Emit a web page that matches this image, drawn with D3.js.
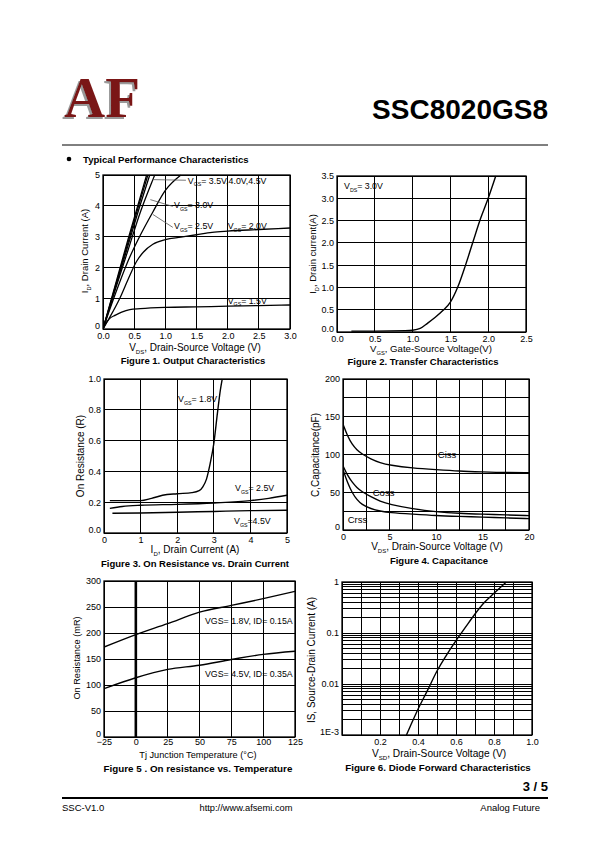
<!DOCTYPE html>
<html><head><meta charset="utf-8">
<script src="https://cdn.jsdelivr.net/npm/d3@7"></script>
<style>body{margin:0;background:#fff}svg{display:block}text{font-family:"Liberation Sans",Arial,sans-serif;fill:#000}</style>
</head><body><svg id="page" width="595" height="842"></svg>
<script>
// ---------- DATA ----------
// Figure 1: Output characteristics, [Vds (V), Id (A)]
const fig1_VGS45 = [[0,0],[0.2,1.45],[0.4,2.9],[0.6,4.3],[0.7,5.0]];
const fig1_VGS40 = [[0,0],[0.2,1.4],[0.4,2.8],[0.6,4.2],[0.72,5.0]];
const fig1_VGS35 = [[0,0],[0.2,1.35],[0.4,2.7],[0.6,4.05],[0.75,5.0]];
const fig1_VGS30 = [[0,0],[0.2,1.3],[0.4,2.55],[0.6,3.8],[0.8,4.85],[0.83,5.0]];
const fig1_VGS25 = [[0,0],[0.2,1.15],[0.4,2.2],[0.6,3.05],[0.8,3.8],[1.0,4.5],[1.25,5.0]];
const fig1_VGS20 = [[0,0],[0.1,0.35],[0.27,1.0],[0.4,1.6],[0.54,2.2],[0.65,2.5],[0.8,2.75],[1.0,2.9],[1.25,2.98],[1.5,3.06],[1.75,3.14],[2.0,3.18],[2.5,3.23],[3.0,3.28]];
const fig1_VGS15 = [[0,0],[0.05,0.2],[0.1,0.33],[0.2,0.45],[0.3,0.55],[0.43,0.63],[0.6,0.66],[1.0,0.7],[1.5,0.72],[2.0,0.74],[2.5,0.76],[3.0,0.78]];
const fig1_xTicks = [0,0.5,1.0,1.5,2.0,2.5,3.0];
const fig1_yTicks = [0,1,2,3,4,5];
// Figure 2: Transfer characteristics, [Vgs (V), Id (A)]
const fig2_VDS30 = [[0.19,0.02],[0.5,0.02],[0.9,0.03],[1.0,0.04],[1.1,0.08],[1.2,0.2],[1.3,0.33],[1.4,0.48],[1.5,0.67],[1.6,1.02],[1.7,1.5],[1.8,2.03],[1.9,2.55],[2.0,3.0],[2.1,3.5]];
const fig2_xTicks = [0,0.5,1.0,1.5,2.0,2.5];
const fig2_yTicks = [0,0.5,1.0,1.5,2.0,2.5,3.0,3.5];
// Figure 3: On resistance vs drain current, [Id (A), R (ohm)]
const fig3_VGS18 = [[0.16,0.21],[1.0,0.21],[1.3,0.225],[1.6,0.245],[2.0,0.255],[2.4,0.262],[2.6,0.275],[2.7,0.3],[2.8,0.35],[2.9,0.45],[3.0,0.58],[3.1,0.78],[3.18,0.93],[3.23,1.0]];
const fig3_VGS25 = [[0.16,0.16],[0.5,0.172],[1.0,0.18],[2.0,0.186],[3.0,0.195],[4.0,0.21],[4.5,0.225],[5.0,0.245]];
const fig3_VGS45 = [[0.23,0.128],[1.0,0.13],[2.0,0.135],[3.0,0.14],[4.0,0.145],[5.0,0.148]];
const fig3_xTicks = [0,1,2,3,4,5];
const fig3_yTicks = [0,0.2,0.4,0.6,0.8,1.0];
// Figure 4: Capacitance, [Vds (V), C (pF)]
const fig4_Ciss = [[0,140],[0.5,124],[1,113],[1.5,106],[2,101],[3,94],[4,89],[5,86],[7.5,82],[10,80],[12.5,78],[15,77],[17.5,76],[20,76]];
const fig4_Coss = [[0,85],[0.5,72],[1,63],[1.5,56],[2,51],[3,44],[4,38],[5,34],[7.5,28],[10,24],[12.5,22],[15,21],[17.5,20],[20,19]];
const fig4_Crss = [[0,80],[0.5,62],[1,49],[1.5,40],[2,34],[3,28],[4,25],[5,23],[7.5,21],[10,19],[12.5,18],[15,17],[17.5,16],[20,15]];
const fig4_xTicks = [0,5,10,15,20];
const fig4_yTicks = [0,50,100,150,200];
// Figure 5: On resistance vs temperature
const fig5_T = [-25,0,25,50,75,100,125];
const fig5_VGS18 = [173,197,218,240,253,266,280];
const fig5_VGS45 = [93,114,130,138,149,159,165];
const fig5_yTicks = [0,50,100,150,200,250,300];
// Figure 6: Diode forward characteristics, [Vsd (V), Is (A)]
const fig6_diode = [[0.339,0.001],[0.36,0.0015],[0.4,0.0032],[0.45,0.0075],[0.5,0.018],[0.55,0.037],[0.6,0.071],[0.65,0.13],[0.7,0.236],[0.75,0.4],[0.8,0.6],[0.865,1.0]];
const fig6_xTicks = [0.2,0.4,0.6,0.8,1.0];
const fig6_yTicks = [1,0.1,0.01,0.001];
const fig6_yLabels = ["1","0.1","0.01","1E-3"];

// ---------- DRAWING ----------
const svg = d3.select('#page');
const defs = svg.append('defs');
const flt = defs.append('filter').attr('id', 'logoShadow').attr('x', '-20%').attr('y', '-20%').attr('width', '140%').attr('height', '140%');
flt.append('feDropShadow').attr('dx', -2).attr('dy', 2).attr('stdDeviation', 0).attr('flood-color', '#9a9a9a');
let clipId = 0;
const TICK_FS = 9;

function rich(g, x, y, parts, o = {}) {
  const fs = o.fs || 8.5;
  const t = g.append('text').attr('x', x).attr('y', y).attr('font-size', fs)
    .attr('text-anchor', o.anchor || 'start').attr('font-weight', o.bold ? 'bold' : null);
  let shifted = false;
  parts.forEach(p => {
    const isSub = Array.isArray(p);
    const s = isSub ? p[0] : p;
    const ts = t.append('tspan').text(s);
    if (isSub && !shifted) { ts.attr('dy', fs * 0.3).attr('font-size', fs * 0.6); shifted = true; }
    else if (isSub) { ts.attr('font-size', fs * 0.6); }
    else if (shifted) { ts.attr('dy', -fs * 0.3); shifted = false; }
  });
  return t;
}

function chart(o) {
  const g = svg.append('g');
  const x = d3.scaleLinear().domain(o.xd).range([o.l, o.r]);
  const y = (o.log ? d3.scaleLog() : d3.scaleLinear()).domain(o.yd).range([o.b, o.t]);
  const grid = g.append('g').attr('stroke', '#000').attr('shape-rendering', 'crispEdges');
  grid.selectAll('.v').data(o.xg).join('line').attr('class', 'v')
    .attr('x1', d => x(d)).attr('x2', d => x(d)).attr('y1', o.t).attr('y2', o.b).attr('stroke-width', 1);
  grid.selectAll('.h').data(o.yg).join('line').attr('class', 'h')
    .attr('y1', d => y(d)).attr('y2', d => y(d)).attr('x1', o.l).attr('x2', o.r).attr('stroke-width', 1);
  g.append('rect').attr('x', o.l).attr('y', o.t).attr('width', o.r - o.l).attr('height', o.b - o.t)
    .attr('fill', 'none').attr('stroke', '#000').attr('stroke-width', 1.3);
  const xa = d3.axisBottom(x).tickValues(o.xt).tickFormat(o.xf).tickSize(0).tickPadding(o.xpad || 4);
  const ga = g.append('g').attr('transform', `translate(0,${o.b})`).call(xa);
  ga.select('.domain').remove();
  ga.attr('font-family', null).attr('font-size', null);
  ga.selectAll('text').attr('font-size', TICK_FS);
  const ya = d3.axisLeft(y).tickValues(o.yt).tickFormat(o.yf).tickSize(0).tickPadding(3);
  const gy = g.append('g').attr('transform', `translate(${o.l},0)`).call(ya);
  gy.select('.domain').remove();
  gy.attr('font-family', null).attr('font-size', null);
  gy.selectAll('text').attr('font-size', TICK_FS);
  // lift the bottom-most y label slightly so it clears the first x label
  gy.selectAll('.tick').filter(d => d === o.yd[0]).select('text').attr('dy', '-0.05em');
  const id = 'clip' + (clipId++);
  defs.append('clipPath').attr('id', id).append('rect')
    .attr('x', o.l).attr('y', o.t - 0.5).attr('width', o.r - o.l).attr('height', o.b - o.t + 1);
  const lines = g.append('g').attr('clip-path', `url(#${id})`);
  return { g, x, y, lines };
}

function curve(c, data, w = 1.4, type = d3.curveMonotoneX) {
  const line = d3.line().x(d => c.x(d[0])).y(d => c.y(d[1])).curve(type);
  c.lines.append('path').attr('d', line(data)).attr('fill', 'none').attr('stroke', '#000').attr('stroke-width', w);
}

function yTitle(cx, cy, parts, fs) {
  const g = svg.append('g').attr('transform', `translate(${cx},${cy}) rotate(-90)`);
  rich(g, 0, 0, parts, { fs: fs, anchor: 'middle' });
}

const CAP_FS = 9.5, XT_FS = 10;

// ---------- HEADER ----------
const hdr = svg.append('g');
hdr.append('text').attr('x', 64).attr('y', 117).attr('font-size', 57).attr('font-weight', 'bold')
  .attr('filter', 'url(#logoShadow)')
  .style('font-family', '"Liberation Serif",serif').style('fill', '#7a1414').text('AF');
hdr.append('text').attr('x', 548).attr('y', 119).attr('font-size', 28).attr('font-weight', 'bold')
  .attr('text-anchor', 'end').text('SSC8020GS8');
hdr.append('line').attr('x1', 62).attr('x2', 548).attr('y1', 145).attr('y2', 145).attr('stroke', '#000').attr('stroke-width', 1);
hdr.append('circle').attr('cx', 69).attr('cy', 159).attr('r', 2.3).attr('fill', '#000');
hdr.append('text').attr('x', 83).attr('y', 162.5).attr('font-size', 9.6).attr('font-weight', 'bold').text('Typical Performance Characteristics');

// ---------- FIGURE 1 ----------
{
  const c = chart({ l: 103, r: 290, t: 175, b: 329, xd: [0, 3], yd: [0, 5],
    xg: fig1_xTicks, yg: fig1_yTicks, xt: fig1_xTicks, yt: fig1_yTicks,
    xf: d3.format('.1f'), yf: d3.format('d') });
  [fig1_VGS45, fig1_VGS40, fig1_VGS35, fig1_VGS30, fig1_VGS25, fig1_VGS20, fig1_VGS15].forEach(s => curve(c, s, 1.3));
  const lg = c.g.append('g').attr('stroke', '#555').attr('stroke-width', 0.8);
  lg.append('line').attr('x1', c.x(0.8)).attr('y1', c.y(4.85)).attr('x2', c.x(1.33)).attr('y2', c.y(4.83));
  lg.append('line').attr('x1', c.x(0.76)).attr('y1', c.y(4.2)).attr('x2', c.x(1.12)).attr('y2', c.y(3.98));
  lg.append('line').attr('x1', c.x(0.8)).attr('y1', c.y(3.72)).attr('x2', c.x(1.12)).attr('y2', c.y(3.3));
  const lbl = (xv, yv, txt) => rich(c.g, c.x(xv), c.y(yv), ['V', ['GS'], txt], { fs: 8.8 });
  lbl(1.36, 4.72, '= 3.5V,4.0V,4.5V');
  lbl(1.14, 3.93, '= 3.0V');
  lbl(1.14, 3.25, '= 2.5V');
  lbl(2.0, 3.25, '= 2.0V');
  lbl(2.0, 0.82, '= 1.5V');
  rich(svg, 195, 351, ['V', ['DS'], ', Drain-Source Voltage (V)'], { fs: XT_FS, anchor: 'middle' });
  rich(svg, 193, 364, ['Figure 1. Output Characteristics'], { fs: CAP_FS, anchor: 'middle', bold: true });
  yTitle(88, 251, ['I', ['D'], ', Drain Current (A)'], 9.5);
}

// ---------- FIGURE 2 ----------
{
  const c = chart({ l: 337, r: 526, t: 176, b: 332, xd: [0, 2.5], yd: [0, 3.5],
    xg: fig2_xTicks, yg: fig2_yTicks, xt: fig2_xTicks, yt: fig2_yTicks,
    xf: d3.format('.1f'), yf: d3.format('.1f') });
  curve(c, fig2_VDS30, 1.4);
  rich(c.g, 344, 189, ['V', ['DS'], '= 3.0V'], { fs: 8.8 });
  rich(svg, 431, 352, ['V', ['GS'], ', Gate-Source Voltage(V)'], { fs: 9.6, anchor: 'middle' });
  rich(svg, 423, 365, ['Figure 2. Transfer Characteristics'], { fs: CAP_FS, anchor: 'middle', bold: true });
  yTitle(316, 254, ['I', ['D'], ', Drain current(A)'], 9.5);
}

// ---------- FIGURE 3 ----------
{
  const c = chart({ l: 104, r: 287, t: 379, b: 533, xd: [0, 5], yd: [0, 1],
    xg: fig3_xTicks, yg: fig3_yTicks, xt: fig3_xTicks, yt: fig3_yTicks,
    xf: d3.format('d'), yf: d3.format('.1f') });
  [fig3_VGS18, fig3_VGS25, fig3_VGS45].forEach(s => curve(c, s, 1.4));
  rich(c.g, 178, 402, ['V', ['GS'], '= 1.8V'], { fs: 8.8 });
  rich(c.g, 235, 491, ['V', ['GS'], '= 2.5V'], { fs: 8.8 });
  rich(c.g, 234, 524, ['V', ['GS'], '=4.5V'], { fs: 8.8 });
  rich(svg, 195, 553, ['I', ['D'], ', Drain Current (A)'], { fs: XT_FS, anchor: 'middle' });
  rich(svg, 195, 567, ['Figure 3. On Resistance vs. Drain Current'], { fs: CAP_FS, anchor: 'middle', bold: true });
  yTitle(84, 456, ['On Resistance  (R)'], 10);
}

// ---------- FIGURE 4 ----------
{
  const c = chart({ l: 343, r: 529, t: 379, b: 530, xd: [0, 20], yd: [0, 200],
    xg: d3.range(0, 20.01, 2.5), yg: d3.range(0, 200.01, 25), xt: fig4_xTicks, yt: fig4_yTicks,
    xf: d3.format('d'), yf: d3.format('d') });
  [fig4_Ciss, fig4_Coss, fig4_Crss].forEach(s => curve(c, s, 1.4, d3.curveBasis));
  rich(c.g, c.x(10.2), c.y(95), ['Ciss'], { fs: 9.5 });
  rich(c.g, c.x(3.2), c.y(45), ['Coss'], { fs: 9.5 });
  rich(c.g, c.x(0.5), c.y(9.5), ['Crss'], { fs: 9.5 });
  rich(svg, 437, 550, ['V', ['DS'], ', Drain-Source Voltage (V)'], { fs: XT_FS, anchor: 'middle' });
  rich(svg, 439, 564, ['Figure 4. Capacitance'], { fs: CAP_FS, anchor: 'middle', bold: true });
  yTitle(319, 455, ['C,Capacitance(pF)'], 10);
}

// ---------- FIGURE 5 ----------
{
  const c = chart({ l: 104, r: 295, t: 581, b: 737, xd: [-25, 125], yd: [0, 300], xpad: 2,
    xg: fig5_T, yg: fig5_yTicks, xt: fig5_T, yt: fig5_yTicks,
    xf: d3.format('d'), yf: d3.format('d') });
  c.g.append('line').attr('x1', c.x(0)).attr('x2', c.x(0)).attr('y1', 581).attr('y2', 737)
    .attr('stroke', '#000').attr('stroke-width', 2.6);
  curve(c, fig5_T.map((t, i) => [t, fig5_VGS18[i]]), 1.4);
  curve(c, fig5_T.map((t, i) => [t, fig5_VGS45[i]]), 1.4);
  rich(c.g, 205, 624, ['VGS= 1.8V, ID= 0.15A'], { fs: 8.8 });
  rich(c.g, 205, 677, ['VGS= 4.5V, ID= 0.35A'], { fs: 8.8 });
  rich(svg, 198, 758, ['Tj Junction Temperature (°C)'], { fs: 9.2, anchor: 'middle' });
  rich(svg, 198, 772, ['Figure 5 . On resistance vs. Temperature'], { fs: 9.8, anchor: 'middle', bold: true });
  yTitle(80, 658, ['On Resistance (mR)'], 9.2);
}

// ---------- FIGURE 6 ----------
{
  const yg = [];
  [0.001, 0.01, 0.1].forEach(dec => { for (let k = 1; k <= 9; k++) yg.push(dec * k); });
  yg.push(1);
  const labels = new Map(fig6_yTicks.map((v, i) => [v, fig6_yLabels[i]]));
  const c = chart({ l: 342, r: 532, t: 582, b: 735, xd: [0, 1], yd: [0.001, 1], log: true,
    xg: d3.range(0, 1.001, 0.1), yg: yg, xt: fig6_xTicks, yt: fig6_yTicks,
    xf: d3.format('.1f'), yf: d => labels.get(d) });
  curve(c, fig6_diode, 1.4);
  rich(svg, 439, 757, ['V', ['SD'], ', Drain-Source Voltage (V)'], { fs: 10.2, anchor: 'middle' });
  rich(svg, 438, 771, ['Figure 6. Diode Forward Characteristics'], { fs: 9.8, anchor: 'middle', bold: true });
  yTitle(315, 660, ['IS, Source-Drain Current (A)'], 10);
}

// ---------- FOOTER ----------
svg.append('text').attr('x', 548).attr('y', 791).attr('font-size', 13).attr('font-weight', 'bold')
  .attr('text-anchor', 'end').text('3 / 5');
svg.append('line').attr('x1', 62).attr('x2', 548).attr('y1', 798).attr('y2', 798).attr('stroke', '#000').attr('stroke-width', 2.2);
svg.append('text').attr('x', 62).attr('y', 811).attr('font-size', 9.5).text('SSC-V1.0');
svg.append('text').attr('x', 246).attr('y', 811).attr('font-size', 9.3).attr('text-anchor', 'middle').text('http://www.afsemi.com');
svg.append('text').attr('x', 540).attr('y', 811).attr('font-size', 9.5).attr('text-anchor', 'end').text('Analog Future');
</script></body></html>
